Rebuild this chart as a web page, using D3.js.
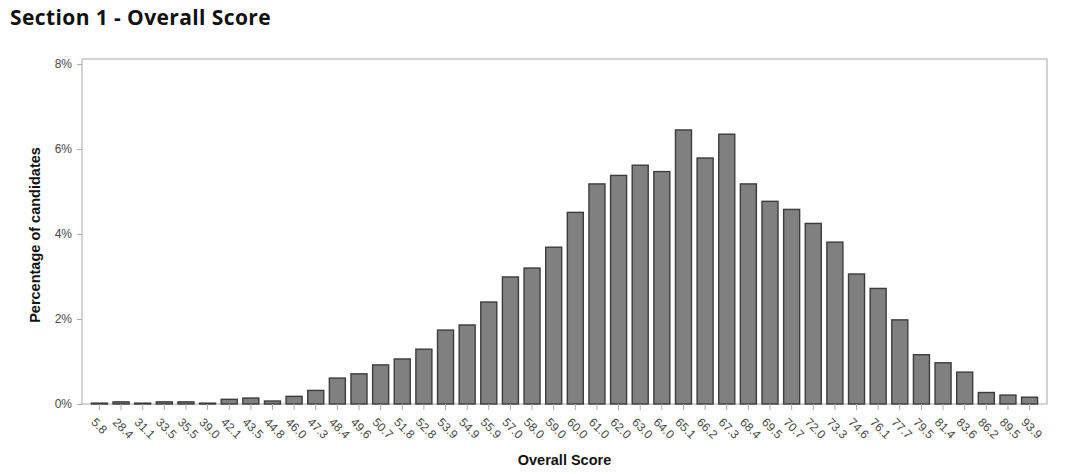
<!DOCTYPE html>
<meta charset="utf-8">
<style>
    body { margin: 0; background: #fff; }
    svg { display: block; }
    .title { font-family: "Open Sans", sans-serif; font-weight: bold; font-size: 21px; letter-spacing: 0.4px; fill: #111; }
    .axis text { font-family: "Liberation Sans", Arial, sans-serif; font-size: 12px; fill: #4a4a4a; }
    .axis path, .axis line { stroke: #aaa; }
    .label { font-family: "Liberation Sans", Arial, sans-serif; font-weight: bold; font-size: 14.5px; fill: #111; }
    .bars rect { fill: #808080; stroke: #3c3c3c; stroke-width: 1.4px; }
</style>

<script src="https://d3js.org/d3.v7.min.js"></script>

<svg width="1080" height="474"></svg>

<script>
    // overall score buckets
    var scores = ["5.8", "28.4", "31.1", "33.5", "35.5", "39.0", "42.1", "43.5", "44.8", "46.0",
        "47.3", "48.4", "49.6", "50.7", "51.8", "52.8", "53.9", "54.9", "55.9", "57.0",
        "58.0", "59.0", "60.0", "61.0", "62.0", "63.0", "64.0", "65.1", "66.2", "67.3",
        "68.4", "69.5", "70.7", "72.0", "73.3", "74.6", "76.1", "77.7", "79.5", "81.4",
        "83.6", "86.2", "89.5", "93.9"];

    // percentage of candidates
    var percents = [0.02, 0.05, 0.02, 0.05, 0.05, 0.02, 0.11, 0.14, 0.07, 0.18,
        0.32, 0.61, 0.71, 0.92, 1.06, 1.29, 1.74, 1.86, 2.40, 2.99,
        3.20, 3.69, 4.51, 5.18, 5.38, 5.62, 5.47, 6.45, 5.79, 6.35,
        5.18, 4.77, 4.58, 4.25, 3.81, 3.06, 2.72, 1.98, 1.16, 0.97,
        0.75, 0.27, 0.21, 0.16];

    var yTicks = [0, 2, 4, 6, 8];

    var svg = d3.select("svg");

    var plotLeft = 82, plotRight = 1047, plotTop = 59, plotBottom = 404;

    svg.append("text")
        .attr("class", "title")
        .attr("x", 10)
        .attr("y", 25)
        .text("Section 1 - Overall Score");

    var x = d3.scaleBand()
        .domain(scores)
        .range([plotLeft, plotRight])
        .paddingInner(0.26)
        .paddingOuter(0.435);

    var y = d3.scaleLinear()
        .domain([0, 8.12])
        .range([plotBottom, plotTop]);

    // frame
    svg.append("rect")
        .attr("x", plotLeft)
        .attr("y", plotTop)
        .attr("width", plotRight - plotLeft)
        .attr("height", plotBottom - plotTop)
        .attr("fill", "none")
        .attr("stroke", "#aaa");

    svg.append("g")
        .attr("class", "bars")
        .selectAll("rect")
        .data(percents)
        .enter().append("rect")
        .attr("x", function (d, i) { return x(scores[i]); })
        .attr("width", x.bandwidth())
        .attr("y", function (d) { return y(d); })
        .attr("height", function (d) { return plotBottom - y(d); });

    var yAxis = svg.append("g")
        .attr("class", "axis")
        .attr("transform", "translate(" + plotLeft + ",0)")
        .call(d3.axisLeft(y).tickValues(yTicks).tickSize(5).tickPadding(5)
            .tickFormat(function (d) { return d + "%"; }));
    yAxis.select(".domain").remove();

    var xAxis = svg.append("g")
        .attr("class", "axis")
        .attr("transform", "translate(0," + plotBottom + ")")
        .call(d3.axisBottom(x).tickSize(6).tickSizeOuter(0));
    xAxis.select(".domain").remove();
    xAxis.selectAll("text")
        .attr("text-anchor", "start")
        .attr("dy", null)
        .attr("y", 0)
        .attr("transform", "translate(-9,19) rotate(45)");

    svg.append("text")
        .attr("class", "label")
        .attr("text-anchor", "middle")
        .attr("x", (plotLeft + plotRight) / 2)
        .attr("y", 465)
        .text("Overall Score");

    svg.append("text")
        .attr("class", "label")
        .attr("text-anchor", "middle")
        .attr("transform", "translate(40," + 235 + ") rotate(-90)")
        .text("Percentage of candidates");
</script>
